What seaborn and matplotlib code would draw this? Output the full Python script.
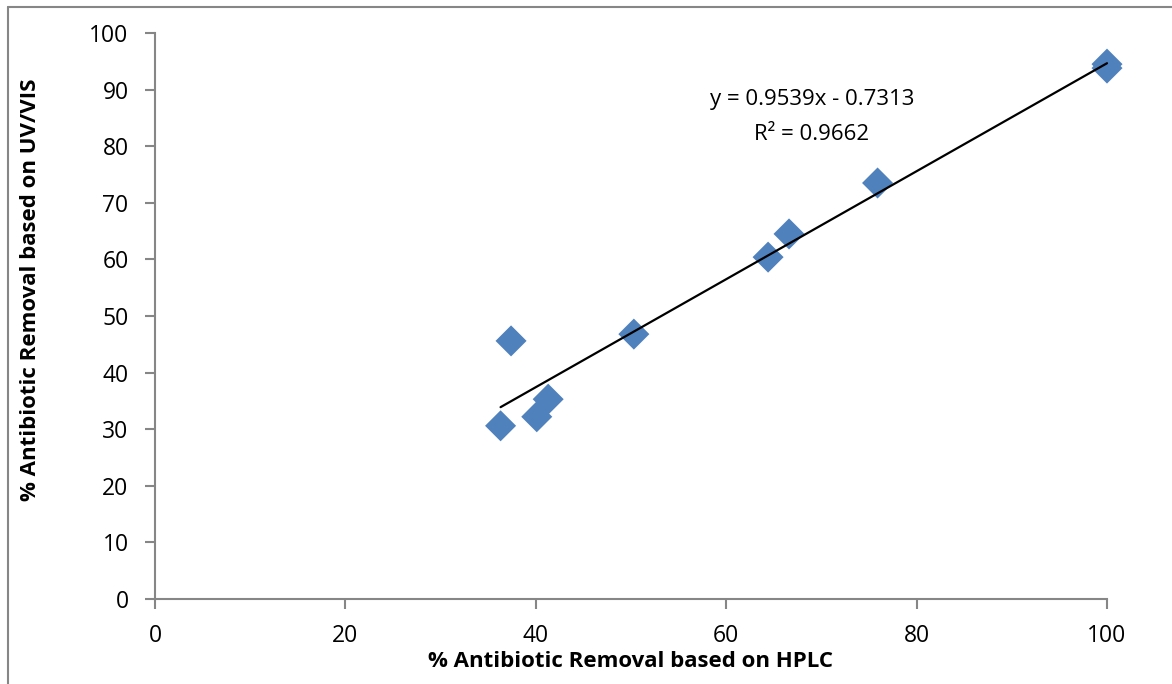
import matplotlib
matplotlib.use("Agg")
import matplotlib.pyplot as plt
import seaborn as sns
import numpy as np
import pandas as pd
from matplotlib.lines import Line2D

hplc = [36.3, 37.4, 40.1, 41.3, 50.3, 64.4, 66.6, 75.9, 100.0, 100.0]
uvvis = [30.6, 45.6, 32.2, 35.3, 46.8, 60.4, 64.5, 73.5, 94.5, 93.8]
slope = 0.9539
intercept = -0.7313
r2 = 0.9662
xticks = [0, 20, 40, 60, 80, 100]
yticks = [0, 10, 20, 30, 40, 50, 60, 70, 80, 90, 100]

sns.set_style("white")
plt.rcParams['font.family'] = ['Open Sans', 'DejaVu Sans']
plt.rcParams['text.color'] = 'black'

df = pd.DataFrame({"x": hplc, "y": uvvis})

fig = plt.figure(figsize=(11.72, 6.84), dpi=100)
ax = fig.add_axes([155/1172, 85/684, 952/1172, 566/684])

sns.scatterplot(data=df, x="x", y="y", marker="D", s=250, color="#4F81BD",
                edgecolor="none", linewidth=0, ax=ax, zorder=2, clip_on=False)

xs = np.array([min(hplc), max(hplc)])
ax.plot(xs, slope * xs + intercept, color="black", lw=1.6, zorder=3, clip_on=False)

ax.set_xlim(0, 100)
ax.set_ylim(0, 100)
ax.set_xticks(xticks)
ax.set_yticks(yticks)
ax.tick_params(axis="both", which="both", direction="out", length=7, width=1.5,
               color="#868686", labelsize=16.5, labelcolor="black",
               bottom=True, left=True)
ax.tick_params(axis="y", pad=12)
ax.tick_params(axis="x", pad=11)
for side in ["top", "right"]:
    ax.spines[side].set_visible(False)
for side in ["left", "bottom"]:
    ax.spines[side].set_color("#868686")
    ax.spines[side].set_linewidth(1.5)
ax.grid(False)

ax.set_xlabel("% Antibiotic Removal based on HPLC", fontsize=16, fontweight="bold", color="black")
ax.set_ylabel("% Antibiotic Removal based on UV/VIS", fontsize=16, fontweight="bold", color="black")
ax.xaxis.set_label_coords(0.5, -(651 - 599) / 566)
ax.yaxis.set_label_coords(-(155 - 41) / 952, (599 - 290) / 566)

ax.text(69.0, 88.2, f"y = {slope}x - {abs(intercept)}", ha="center", va="center",
        fontsize=16, color="black")
ax.text(69.0, 82.0, f"R² = {r2}", ha="center", va="center", fontsize=16, color="black")

# outer chart border (left and top)
fig.add_artist(Line2D([8/1172, 8/1172], [0, 1 - 7/684], transform=fig.transFigure,
                      color="#868686", lw=1.5))
fig.add_artist(Line2D([8/1172, 1], [1 - 7/684, 1 - 7/684], transform=fig.transFigure,
                      color="#868686", lw=1.5))

fig.savefig("out.png", dpi=100)
